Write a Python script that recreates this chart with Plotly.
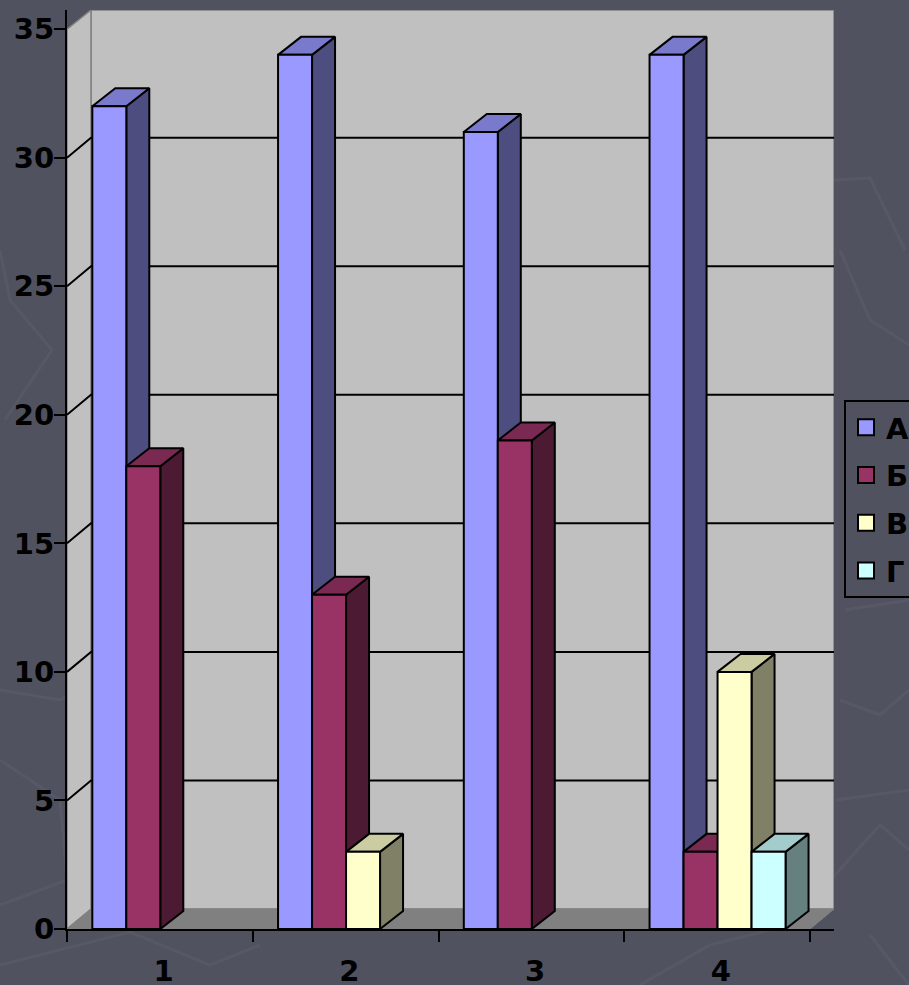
import plotly.graph_objects as go

# ---- data ----
categories = ["1", "2", "3", "4"]
series_names = ["А", "Б", "В", "Г"]
values_a = [32, 34, 31, 34]
values_b = [18, 13, 19, 3]
values_c = [None, 3, None, 10]
values_d = [None, None, None, 3]
y_ticks = [0, 5, 10, 15, 20, 25, 30, 35]

all_values = [values_a, values_b, values_c, values_d]
front = ["#9999ff", "#993366", "#ffffcc", "#ccffff"]
side = ["#4d4d80", "#4d1a33", "#808066", "#668080"]
top = ["#7a7acc", "#7a2952", "#cccca3", "#a3cccc"]

# ---- geometry (pixels → axis units) ----
W, H = 909, 985
L, R, T, B = 67, 834, 10, 929
CAT_PX = 185.75
VAL_PX = 25.71
to_x = lambda px: px / CAT_PX
to_y = lambda px: px / VAL_PX
x_range = [0, to_x(R - L)]
y_range = [0, to_y(B - T)]
wall_dx, wall_dy = to_x(24), to_y(20)
bar_dx, bar_dy = to_x(23), to_y(18)
bar_w = to_x(34.0)
group_pad = to_x(25.3)

traces = []


def poly(xs, ys, fill, line="#000000", lw=2, xa="x", ya="y"):
    return go.Scatter(x=xs, y=ys, mode="lines", fill="toself", fillcolor=fill,
                      line=dict(color=line, width=lw), hoverinfo="skip",
                      showlegend=False, xaxis=xa, yaxis=ya)


# walls and floor
xe = x_range[1]
ye = y_range[1]
traces.append(poly([wall_dx, xe, xe, wall_dx, wall_dx], [wall_dy, wall_dy, ye, ye, wall_dy], "#c0c0c0", "#808080", 1.5))
traces.append(poly([0, wall_dx, wall_dx, 0, 0], [0, wall_dy, ye, 35, 0], "#c0c0c0", "#808080", 1.5))
traces.append(poly([0, xe - wall_dx, xe, wall_dx, 0], [0, 0, wall_dy, wall_dy, 0], "#808080", "#808080", 1))

# gridlines on the walls
gx, gy = [], []
for v in y_ticks[1:-1]:
    gx += [0, wall_dx, xe, None]
    gy += [v, v + wall_dy, v + wall_dy, None]
traces.append(go.Scatter(x=gx, y=gy, mode="lines", line=dict(color="#000000", width=2),
                         hoverinfo="skip", showlegend=False))


def axis_names(layer):
    return ("x", "y") if layer == 0 else (f"x{layer + 1}", f"y{layer + 1}")


for s, vals in enumerate(all_values):
    xs, fx, fy, tx, ty, sx, sy = [], [], [], [], [], [], []
    for c, v in enumerate(vals):
        if v is None:
            continue
        xl = c + group_pad + s * bar_w
        xr = xl + bar_w
        fx.append(xl)
        fy.append(v)
        sx += [xr, xr + bar_dx, xr + bar_dx, xr, xr, None]
        sy += [0, bar_dy, v + bar_dy, v, 0, None]
        tx += [xl, xr, xr + bar_dx, xl + bar_dx, xl, None]
        ty += [v, v, v + bar_dy, v + bar_dy, v, None]
    # faces of this series sit on layer s; its front bars sit on layer s+1,
    # where bars are painted beneath the next series' side faces.
    xa, ya = axis_names(s)
    traces.append(poly(sx, sy, side[s], xa=xa, ya=ya))
    traces.append(poly(tx, ty, top[s], xa=xa, ya=ya))
    xa, ya = axis_names(s + 1)
    traces.append(go.Bar(x=fx, y=fy, width=bar_w, offset=0, name=series_names[s],
                         marker=dict(color=front[s], line=dict(color="#000000", width=2)),
                         showlegend=False, xaxis=xa, yaxis=ya))
    # legend key
    traces.append(go.Scatter(x=[None], y=[None], mode="markers", name=series_names[s],
                             legendgroup=series_names[s],
                             marker=dict(symbol="square", size=18, color=front[s],
                                         line=dict(color="#000000", width=2))))

fig = go.Figure(traces)

bg_lines = [
    "M0,250 L10,300 L52,350 L5,420",
    "M0,690 L60,700 L100,680",
    "M0,760 L60,800 L67,880 L0,905",
    "M0,965 L130,932 L210,965 L260,945",
    "M640,985 L710,945 L790,925 L880,825 L909,850",
    "M840,250 L870,320 L909,345",
    "M834,180 L870,178 L905,250",
    "M845,610 L909,600",
    "M836,800 L909,790",
    "M840,700 L880,715 L909,690",
    "M870,935 L909,985",
]
shapes = []
for d in bg_lines:
    pts = [p.split(",") for p in d.replace("M", "").replace("L", "").split()]
    path = ""
    for i, (px, py) in enumerate(pts):
        path += ("M" if i == 0 else "L") + f"{(float(px) - L) / (R - L):.4f},{(B - float(py)) / (B - T):.4f} "
    shapes.append(dict(type="path", xref="paper", yref="paper", layer="below", path=path.strip(),
                       line=dict(color="rgba(255,255,255,0.04)", width=3)))

tick_font = dict(family="DejaVu Sans", size=29, color="#000000", weight=700)
layout = dict(
    width=W, height=H, autosize=False,
    margin=dict(l=L, r=W - R, t=T, b=H - B, pad=0, autoexpand=False),
    paper_bgcolor="#50525f", plot_bgcolor="rgba(0,0,0,0)",
    barmode="overlay", shapes=shapes, font=tick_font,
    xaxis=dict(range=x_range, showgrid=False, zeroline=False, showline=True, linecolor="#000000", linewidth=2,
               tickmode="array", tickvals=[i + 0.52 for i in range(len(categories))], ticktext=categories,
               ticks="outside", ticklen=15, tickcolor="rgba(0,0,0,0)", tickfont=tick_font,
               minor=dict(tickmode="array", tickvals=list(range(len(categories) + 1)), ticks="outside",
                          ticklen=11, tickcolor="#000000", tickwidth=2)),
    yaxis=dict(range=y_range, showgrid=False, zeroline=False, showline=True, linecolor="#000000", linewidth=2,
               tickmode="array", tickvals=y_ticks, ticks="outside", ticklen=11, tickwidth=2,
               tickcolor="#000000", tickfont=tick_font, ticklabelstandoff=-6),
    legend=dict(x=(844 - L) / (R - L), xanchor="left", y=1 - (400 - T) / (B - T), yanchor="top",
                bgcolor="rgba(0,0,0,0)", bordercolor="#000000", borderwidth=2,
                font=tick_font, tracegroupgap=7, traceorder="grouped", itemsizing="trace"),
    showlegend=True,
)
for k in range(2, len(all_values) + 2):
    layout[f"xaxis{k}"] = dict(range=x_range, overlaying="x", visible=False, anchor=f"y{k}")
    layout[f"yaxis{k}"] = dict(range=y_range, overlaying="y", visible=False, anchor=f"x{k}")
fig.update_layout(**layout)

fig.write_html("out.html", config={"displayModeBar": False},
               post_script="document.body.style.margin='0';document.body.style.overflow='hidden';")
